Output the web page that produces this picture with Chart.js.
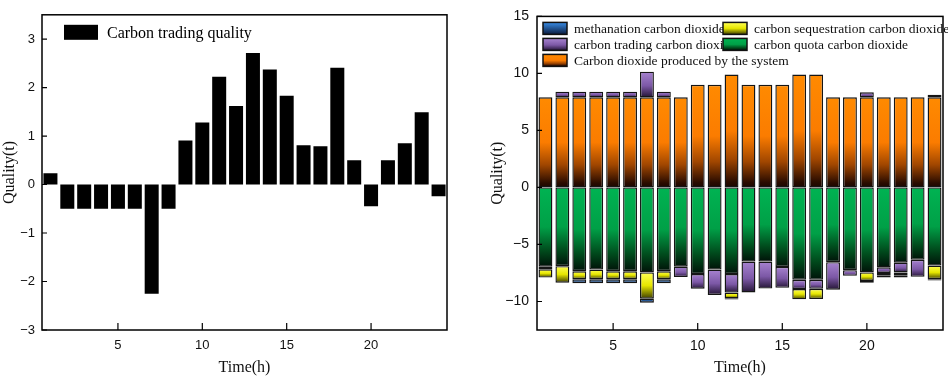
<!DOCTYPE html>
<html lang="en">
<head>
<meta charset="UTF-8">
<title>Carbon trading quality</title>
<script src="https://cdn.jsdelivr.net/npm/chart.js"></script>
<style>
    body { margin: 0; background: #fff; }
    .wrap { display: flex; width: 948px; height: 378px; }
    canvas { display: block; }
</style>
</head>
<body>
<div class="wrap">
    <canvas id="left" width="474" height="378"></canvas>
    <canvas id="right" width="474" height="378"></canvas>
</div>
<script>
// hours on the x axis, and which of them carry a tick label
const hours = [1,2,3,4,5,6,7,8,9,10,11,12,13,14,15,16,17,18,19,20,21,22,23,24];
const xTicks = [5, 10, 15, 20];

// left panel
const tradingQuality = [0.23,-0.5,-0.5,-0.5,-0.5,-0.5,-2.25,-0.5,0.91,1.28,2.22,1.62,2.71,2.37,1.83,0.81,0.79,2.41,0.5,-0.45,0.5,0.85,1.49,-0.24];

// right panel (stacked, values as plotted)
const produced      = [7.9,7.9,7.9,7.9,7.9,7.9,7.9,7.9,7.9,9.0,9.0,9.9,9.0,9.0,9.0,9.9,9.9,7.9,7.9,7.9,7.9,7.9,7.9,7.9];
const quota         = [-6.95,-6.9,-7.35,-7.2,-7.35,-7.35,-7.45,-7.35,-6.95,-7.6,-7.2,-7.6,-6.5,-6.5,-6.97,-8.1,-8.1,-6.55,-7.25,-7.45,-7.0,-6.6,-6.35,-6.85];
const trading       = [-0.23,0.5,0.5,0.5,0.5,0.5,2.25,0.5,-0.91,-1.28,-2.22,-1.62,-2.71,-2.37,-1.83,-0.81,-0.79,-2.41,-0.5,0.45,-0.5,-0.85,-1.49,0.24];
const sequestration = [-0.72,-1.45,-0.7,-0.85,-0.7,-0.7,-2.3,-0.7,0,0,0,-0.5,0,0,0,-0.9,-0.9,0,0,-0.75,-0.25,-0.25,0,-1.2];
const methanation   = [0,0,-0.35,-0.35,-0.35,-0.35,-0.35,-0.35,0,0,0,-0.1,0,0,0,0,0,0,0,-0.15,-0.15,-0.2,0,-0.1];

const stops = {
    produced: [[0,'#ff8a00'],[0.5,'#fb7c00'],[0.75,'#a04600'],[0.95,'#2a0c00'],[1,'#1a0600']],
    quota:    [[0,'#00b352'],[0.5,'#00a047'],[0.8,'#004a1c'],[1,'#001208']],
    trading:  [[0,'#a783d0'],[0.55,'#7c58a6'],[1,'#241535']],
    seq:      [[0,'#ffff55'],[0.5,'#e6e600'],[1,'#3c3c00']],
    meth:     [[0,'#3a8ee8'],[1,'#0a1a3c']]
};

function minus(v) {
    return String(v).replace('-', '\u2212');
}

// vertical gradient over each stacked segment
function segGrad(st) {
    const solid = st[1][1];
    return ctx => {
        const chart = ctx.chart;
        const y = chart.scales.y;
        if (ctx.type !== 'data' || !y || !chart.chartArea) return solid;
        const i = ctx.dataIndex, d = ctx.datasetIndex;
        const v = chart.data.datasets[d].data[i];
        let base = 0;
        for (let k = 0; k < d; k++) {
            const w = chart.data.datasets[k].data[i];
            if ((w >= 0) === (v >= 0)) base += w;
        }
        const top = y.getPixelForValue(Math.max(base, base + v));
        const bot = y.getPixelForValue(Math.min(base, base + v));
        if (!isFinite(top) || bot - top < 1) return solid;
        const g = chart.ctx.createLinearGradient(0, top, 0, bot);
        st.forEach(s => g.addColorStop(s[0], s[1]));
        return g;
    };
}

const framePlugin = {
    id: 'frame',
    afterDatasetsDraw(chart) {
        const {ctx, chartArea: a, scales} = chart;
        ctx.save();
        ctx.strokeStyle = '#000';
        ctx.lineWidth = 1.5;
        ctx.strokeRect(a.left, a.top, a.right - a.left, a.bottom - a.top);
        ctx.lineWidth = 1.2;
        ctx.beginPath();
        scales.y.ticks.forEach(t => {
            const py = scales.y.getPixelForValue(t.value);
            ctx.moveTo(a.left, py);
            ctx.lineTo(a.left + 5, py);
        });
        hours.forEach((h, i) => {
            if (xTicks.includes(h)) {
                const px = scales.x.getPixelForValue(i);
                ctx.moveTo(px, a.bottom);
                ctx.lineTo(px, a.bottom - 7);
            }
        });
        ctx.stroke();
        ctx.restore();
    }
};

const boxLegend = {
    id: 'boxLegend',
    afterDraw(chart, args, opts) {
        const {ctx, chartArea: a} = chart;
        ctx.save();
        ctx.font = opts.font;
        ctx.textBaseline = 'middle';
        opts.items.forEach(it => {
            const bx = a.left + it.x, by = a.top + it.y;
            let fill = it.color;
            if (it.stops) {
                fill = ctx.createLinearGradient(0, by, 0, by + opts.boxH);
                it.stops.forEach(s => fill.addColorStop(s[0], s[1]));
            }
            ctx.fillStyle = fill;
            ctx.fillRect(bx, by, opts.boxW, opts.boxH);
            if (opts.border) {
                ctx.strokeStyle = '#111';
                ctx.lineWidth = 1.5;
                ctx.strokeRect(bx, by, opts.boxW, opts.boxH);
            }
            ctx.fillStyle = opts.color;
            ctx.fillText(it.text, bx + opts.boxW + opts.gap, by + opts.boxH / 2 + 1);
        });
        ctx.restore();
    }
};

function axisOptions(tickSize, yPad, yMin, yMax, yStep, yWidth, xHeight) {
    return {
        x: {
            type: 'category',
            offset: true,
            grid: { display: false, drawTicks: false },
            border: { display: false },
            ticks: {
                autoSkip: false, maxRotation: 0, padding: 8,
                color: '#111',
                font: { family: 'Liberation Sans', size: tickSize },
                callback: function (v) {
                    const h = this.getLabelForValue(v);
                    return xTicks.includes(Number(h)) ? h : '';
                }
            },
            title: {
                display: true, text: 'Time(h)', color: '#111', padding: 0,
                font: { family: 'Liberation Serif', size: 16 }
            },
            afterFit: s => { s.height = xHeight; }
        },
        y: {
            min: yMin, max: yMax,
            grid: { display: false, drawTicks: false },
            border: { display: false },
            ticks: {
                stepSize: yStep, includeBounds: false, padding: yPad,
                color: '#111',
                font: { family: 'Liberation Sans', size: tickSize },
                callback: v => minus(v)
            },
            title: {
                display: true, text: 'Quality(t)', color: '#111', padding: 0,
                font: { family: 'Liberation Serif', size: 16 }
            },
            afterFit: s => { s.width = yWidth; }
        }
    };
}

new Chart(document.getElementById('left'), {
    type: 'bar',
    data: {
        labels: hours,
        datasets: [{
            label: 'Carbon trading quality',
            data: tradingQuality,
            backgroundColor: '#000',
            borderWidth: 0,
            barPercentage: 0.83,
            categoryPercentage: 1
        }]
    },
    options: {
        responsive: false,
        animation: false,
        devicePixelRatio: 1,
        layout: { padding: { left: 0, top: 6, right: 27, bottom: 1 } },
        scales: axisOptions(13, 7, -3, 3.5, 1, 42, 47),
        plugins: {
            legend: { display: false },
            tooltip: { enabled: false },
            boxLegend: {
                font: '16px "Liberation Serif"', color: '#000',
                boxW: 34, boxH: 15, gap: 9, border: false,
                items: [{ text: 'Carbon trading quality', color: '#000', x: 22, y: 10 }]
            }
        }
    },
    plugins: [framePlugin, boxLegend]
});

function seg(label, data, st) {
    return {
        label: label,
        data: data,
        backgroundColor: segGrad(st),
        borderColor: '#151515',
        borderWidth: ctx => (ctx.raw === 0 ? 0 : 1.4),
        borderSkipped: false,
        barPercentage: 0.82,
        categoryPercentage: 1,
        stack: 's'
    };
}

new Chart(document.getElementById('right'), {
    type: 'bar',
    data: {
        labels: hours,
        datasets: [
            seg('Carbon dioxide produced by the system', produced, stops.produced),
            seg('carbon quota carbon dioxide', quota, stops.quota),
            seg('carbon trading carbon dioxide', trading, stops.trading),
            seg('carbon sequestration carbon dioxide', sequestration, stops.seq),
            seg('methanation carbon dioxide', methanation, stops.meth)
        ]
    },
    options: {
        responsive: false,
        animation: false,
        devicePixelRatio: 1,
        layout: { padding: { left: 14, top: 6, right: 5, bottom: 1 } },
        scales: (() => {
            const s = axisOptions(14, 8, -12.5, 15, 5, 49, 47);
            s.x.stacked = true;
            s.y.stacked = true;
            return s;
        })(),
        plugins: {
            legend: { display: false },
            tooltip: { enabled: false },
            boxLegend: {
                font: '13.5px "Liberation Serif"', color: '#111',
                boxW: 24, boxH: 12, gap: 7, border: true,
                items: [
                    { text: 'methanation carbon dioxide', stops: stops.meth, x: 6, y: 6 },
                    { text: 'carbon trading carbon dioxide', stops: stops.trading, x: 6, y: 22 },
                    { text: 'Carbon dioxide produced by the system', stops: stops.produced, x: 6, y: 38 },
                    { text: 'carbon sequestration carbon dioxide', stops: stops.seq, x: 186, y: 6 },
                    { text: 'carbon quota carbon dioxide', stops: stops.quota, x: 186, y: 22 }
                ]
            }
        }
    },
    plugins: [framePlugin, boxLegend]
});
</script>
</body>
</html>
